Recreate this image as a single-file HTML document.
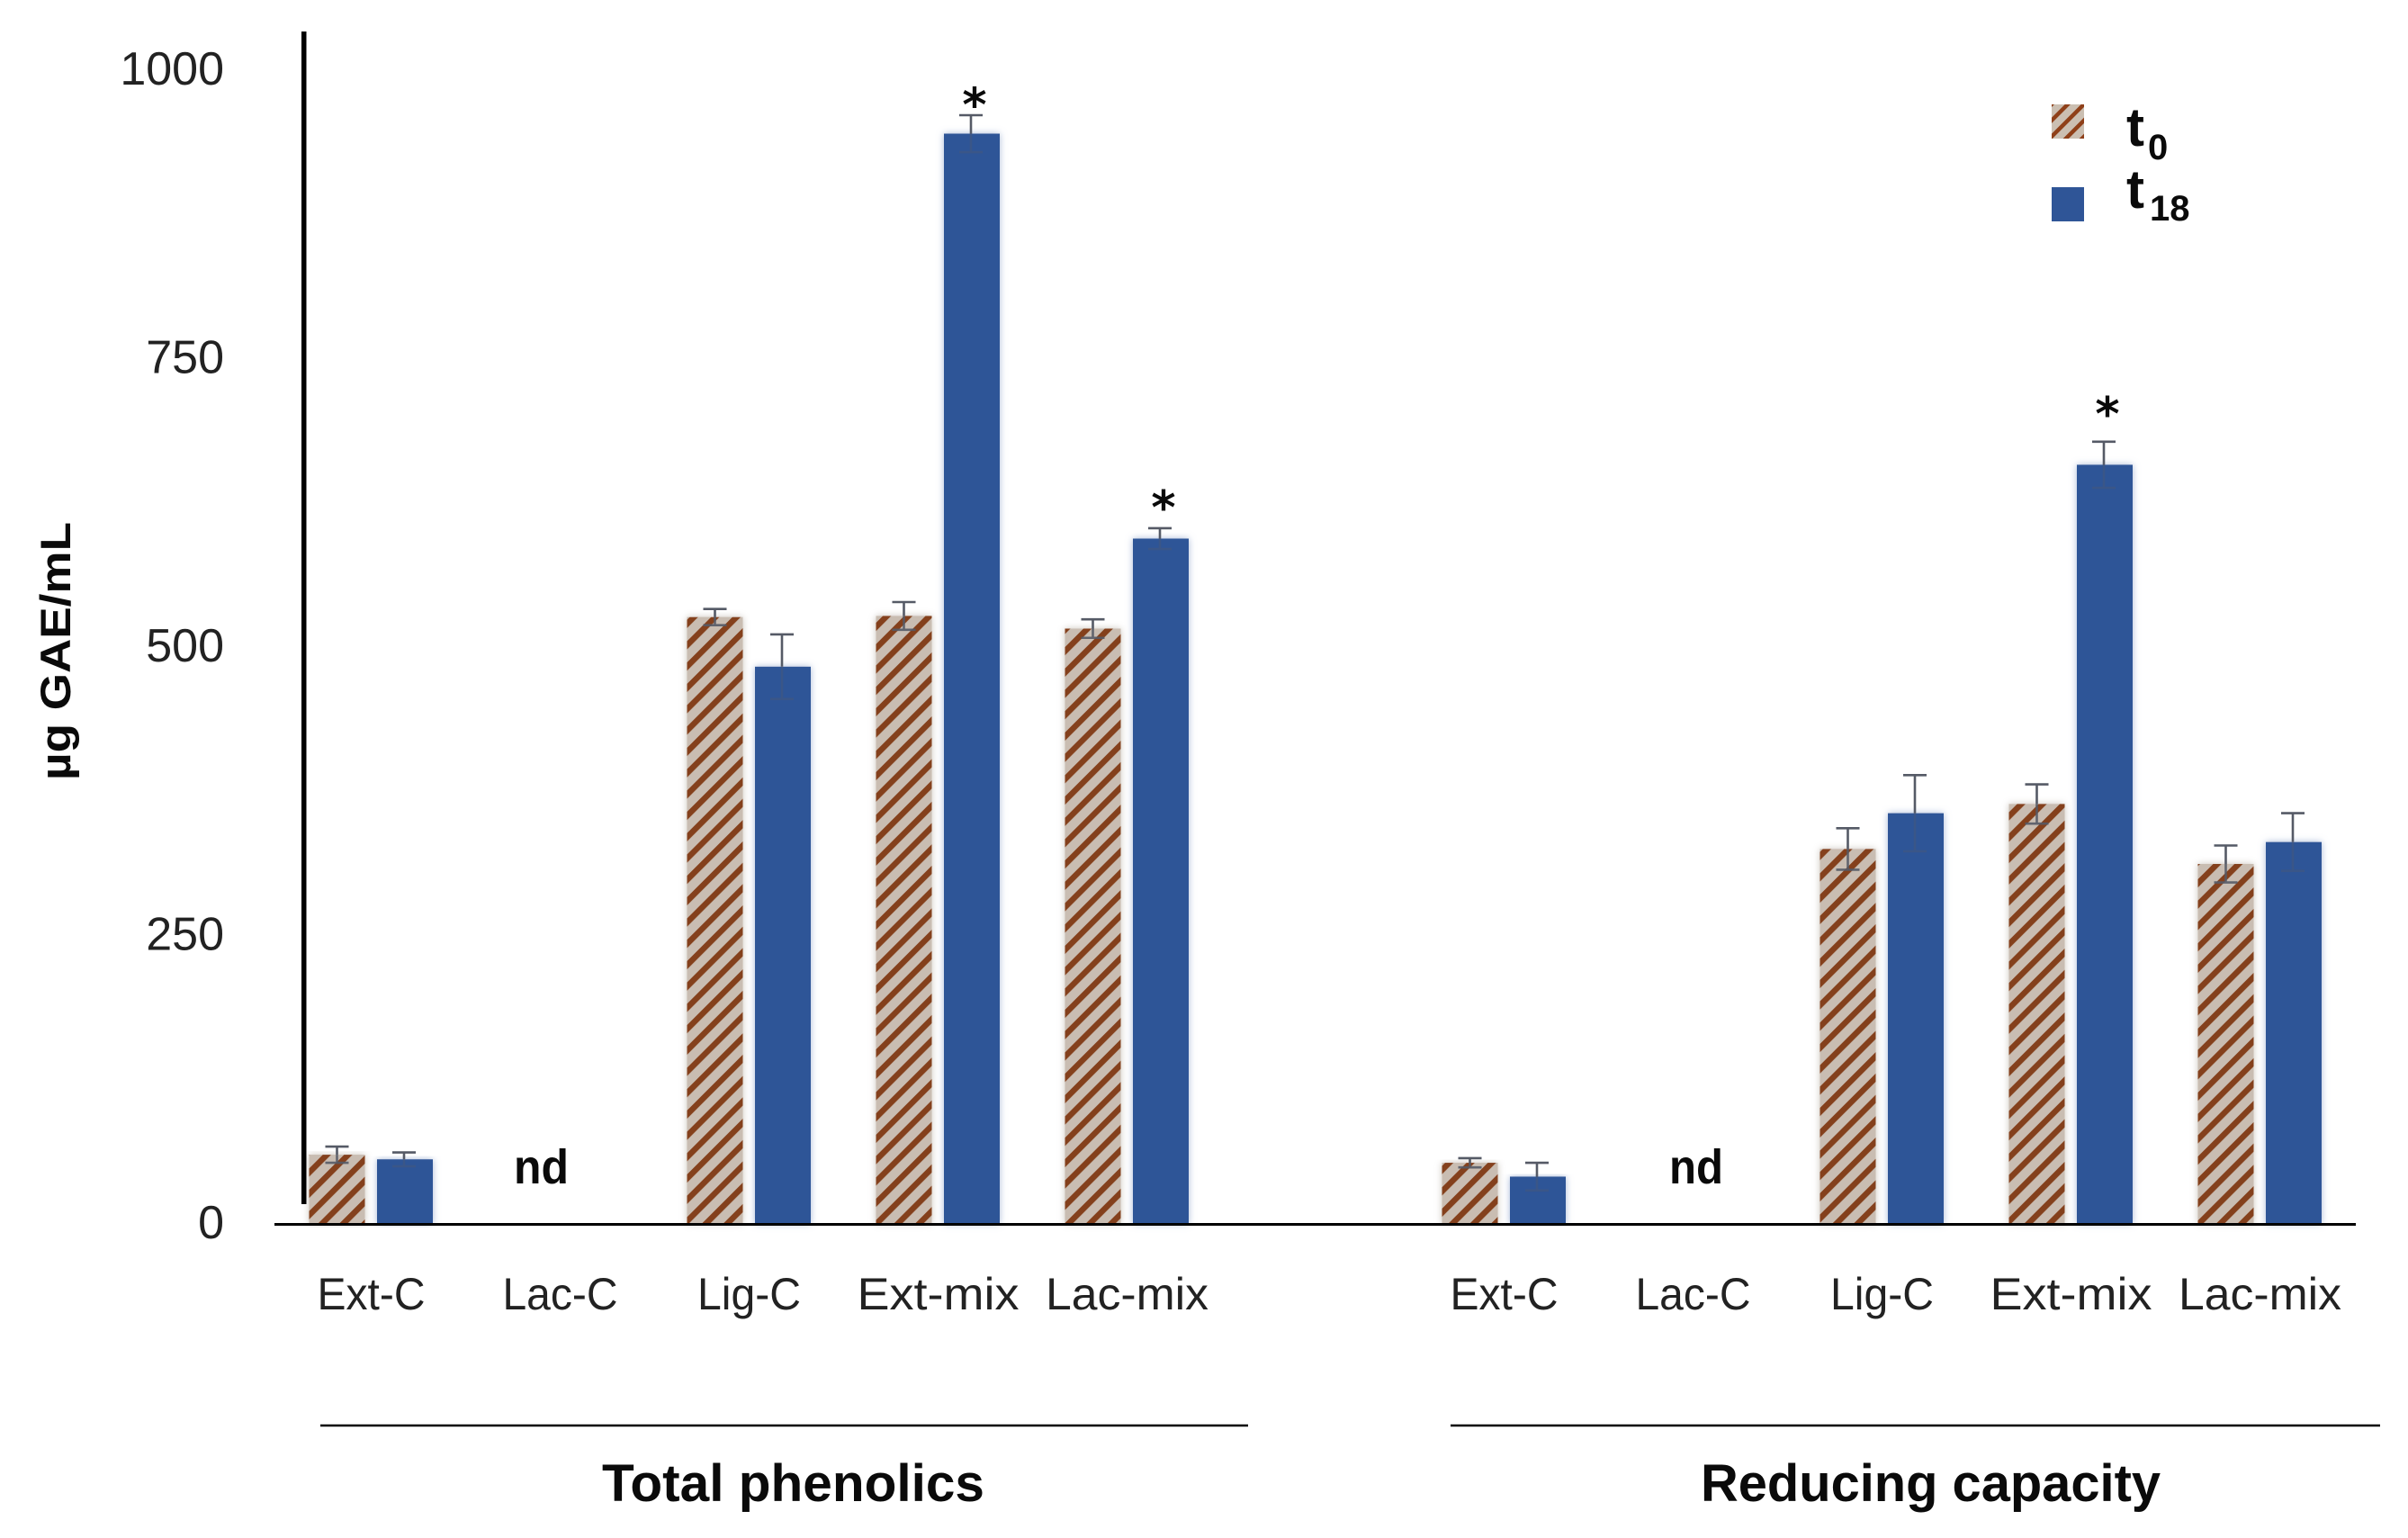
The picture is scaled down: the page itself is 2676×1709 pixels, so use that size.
<!DOCTYPE html>
<html lang="en">
<head>
<meta charset="utf-8">
<title>Total phenolics and reducing capacity</title>
<style>
  html, body { margin: 0; padding: 0; background: #fff; }
  svg { display: block; font-family: "Liberation Sans", sans-serif; }
  .tick { font-size: 52px; fill: #222; }
  .cat { font-size: 50px; fill: #222; }
  .bold { font-weight: bold; fill: #0a0a0a; }
  .star { font-family: "DejaVu Sans", sans-serif; font-weight: bold; fill: #0a0a0a; }
</style>
</head>
<body>
<svg id="chart" xmlns="http://www.w3.org/2000/svg" width="2676" height="1709" viewBox="0 0 2676 1709">
  <defs>
    <pattern id="hatch" patternUnits="userSpaceOnUse" width="16.76" height="16.76" patternTransform="translate(6.4 0) rotate(45)">
      <rect width="16.76" height="16.76" fill="#c9bdb2"/>
      <rect width="6.5" height="16.76" fill="#84401a"/>
    </pattern>
    <pattern id="hatch-small" patternUnits="userSpaceOnUse" width="12.7" height="12.7" patternTransform="translate(2 2) rotate(45)">
      <rect width="12.7" height="12.7" fill="#cbbfb2"/>
      <rect width="4.4" height="12.7" fill="#8f4019"/>
    </pattern>
    <filter id="halo-blue" x="-40%" y="-5%" width="180%" height="110%">
      <feDropShadow dx="0" dy="0" stdDeviation="4" flood-color="#9db0d2" flood-opacity="0.9"/>
    </filter>
    <filter id="halo-tan" x="-40%" y="-5%" width="180%" height="110%">
      <feDropShadow dx="0" dy="0" stdDeviation="4" flood-color="#cbc4bc" flood-opacity="1"/>
    </filter>
  </defs>

  <rect width="2676" height="1709" fill="#ffffff"/>

  <g id="bars"></g>
  <g id="errors"></g>
  <g id="labels"></g>

  <rect x="335" y="35" width="5.5" height="1303" fill="#000"/>
  <rect x="305" y="1359" width="2313" height="3" fill="#000"/>

  <text class="bold" font-size="47" transform="translate(78 867) rotate(-90)" textLength="287" lengthAdjust="spacingAndGlyphs">µg GAE/mL</text>

  <line x1="356" x2="1387" y1="1584" y2="1584" stroke="#000" stroke-width="2.5"/>
  <line x1="1612" x2="2645" y1="1584" y2="1584" stroke="#000" stroke-width="2.5"/>
  <text class="bold" font-size="58" x="669" y="1668" textLength="425" lengthAdjust="spacingAndGlyphs">Total phenolics</text>
  <text class="bold" font-size="58" x="1890" y="1668" textLength="511" lengthAdjust="spacingAndGlyphs">Reducing capacity</text>

  <text class="bold" font-size="54" x="571" y="1315" textLength="61" lengthAdjust="spacingAndGlyphs">nd</text>
  <text class="bold" font-size="54" x="1855" y="1315" textLength="60" lengthAdjust="spacingAndGlyphs">nd</text>

  <g>
    <rect x="2280" y="116" width="36" height="38" fill="url(#hatch-small)"/>
    <text class="bold" font-size="60" x="2363" y="162">t</text>
    <text class="bold" font-size="40" x="2387" y="177">0</text>
    <rect x="2280" y="208" width="36" height="38" fill="#2f5597"/>
    <text class="bold" font-size="60" x="2363" y="231">t</text>
    <text class="bold" font-size="40" x="2389" y="245">18</text>
  </g>
</svg>

<script>
// ---- chart data ----
const categories = ["Ext-C", "Lac-C", "Lig-C", "Ext-mix", "Lac-mix"];
const yTicks = [0, 250, 500, 750, 1000];

const phenolicsT0 = [60, null, 526, 527, 516];
const phenolicsT0Err = [7, null, 7, 12, 8];
const phenolicsT18 = [56, null, 483, 945, 594];
const phenolicsT18Err = [6, null, 28, 16, 9];

const reducingT0 = [53, null, 325, 364, 312];
const reducingT0Err = [4, null, 18, 17, 16];
const reducingT18 = [41, null, 356, 658, 331];
const reducingT18Err = [12, null, 33, 20, 25];

// level (in axis units) of the significance asterisks over t18 bars
const phenolicsStars = [null, null, null, 977, 628];
const reducingStars = [null, null, null, 709, null];

// ---- axis functions ----
const SVG_NS = "http://www.w3.org/2000/svg";
const Y_ZERO = 1360;
const PX_PER_UNIT = 1.282;
const CAT_STEP = 210;
const BAR_W = 62;
const T18_OFFSET = 75.5;
const LABEL_OFFSET = 38;
const STAR_NUDGE = 3;
const GROUP_START = [374.5, 1633.5];
const LABEL_SPAN = { "Ext-C": 120, "Lac-C": 128, "Lig-C": 115, "Ext-mix": 180, "Lac-mix": 181 };

function yScale(v) { return Y_ZERO - v * PX_PER_UNIT; }
function xScale(group, catIndex) { return GROUP_START[group] + CAT_STEP * catIndex; }

function make(tag, attrs) {
  const node = document.createElementNS(SVG_NS, tag);
  for (const key in attrs) { node.setAttribute(key, attrs[key]); }
  return node;
}

const barsLayer = document.getElementById("bars");
const errorsLayer = document.getElementById("errors");
const labelsLayer = document.getElementById("labels");

function drawBar(cx, value, fill, filter, name) {
  const top = yScale(value);
  const bar = make("rect", { x: cx - BAR_W / 2, y: top, width: BAR_W, height: Y_ZERO - top, fill: fill, filter: filter });
  
  
  barsLayer.appendChild(bar);
}

function drawError(cx, value, err, lowerOpacity, name) {
  const hi = yScale(value + err);
  const mid = yScale(value);
  const lo = yScale(value - err);
  const group = make("g", { fill: "none", stroke: "#555a66", "stroke-width": 2.6 });
  
  
  group.appendChild(make("path", { d: "M" + (cx - 13) + " " + hi + "H" + (cx + 13) + "M" + cx + " " + hi + "V" + mid }));
  group.appendChild(make("path", {
    d: "M" + cx + " " + mid + "V" + lo + "M" + (cx - 13) + " " + lo + "H" + (cx + 13),
    opacity: lowerOpacity
  }));
  errorsLayer.appendChild(group);
}

function drawStar(cx, level, name) {
  const star = make("text", { x: cx, y: yScale(level) + 27, "text-anchor": "middle", "font-size": 52, class: "star" });
  star.textContent = "*";
  
  
  labelsLayer.appendChild(star);
}

function drawGroup(group, prefix, t0, t0Err, t18, t18Err, stars) {
  categories.forEach(function (cat, i) {
    const cx = xScale(group, i);
    const slug = prefix + "-" + cat.toLowerCase();
    if (t0[i] !== null) {
      drawBar(cx, t0[i], "url(#hatch)", "url(#halo-tan)", "bar-t0-" + slug);
      drawError(cx, t0[i], t0Err[i], 0.9, "error-bar-t0-" + slug);
    }
    if (t18[i] !== null) {
      drawBar(cx + T18_OFFSET, t18[i], "#2f5597", "url(#halo-blue)", "bar-t18-" + slug);
      drawError(cx + T18_OFFSET - 1, t18[i], t18Err[i], 0.3, "error-bar-t18-" + slug);
    }
    if (stars[i] !== null) {
      drawStar(cx + T18_OFFSET + STAR_NUDGE, stars[i], "significance-star-" + slug);
    }
    const label = make("text", {
      x: cx + LABEL_OFFSET, y: 1455, "text-anchor": "middle", class: "cat",
      textLength: LABEL_SPAN[cat], lengthAdjust: "spacingAndGlyphs"
    });
    label.textContent = cat;
    
    
    labelsLayer.appendChild(label);
  });
}

drawGroup(0, "phenolics", phenolicsT0, phenolicsT0Err, phenolicsT18, phenolicsT18Err, phenolicsStars);
drawGroup(1, "reducing", reducingT0, reducingT0Err, reducingT18, reducingT18Err, reducingStars);

yTicks.forEach(function (tick) {
  const label = make("text", { x: 249, y: yScale(tick) + 16, "text-anchor": "end", class: "tick" });
  label.textContent = String(tick);
  
  
  labelsLayer.appendChild(label);
});
</script>
</body>
</html>
